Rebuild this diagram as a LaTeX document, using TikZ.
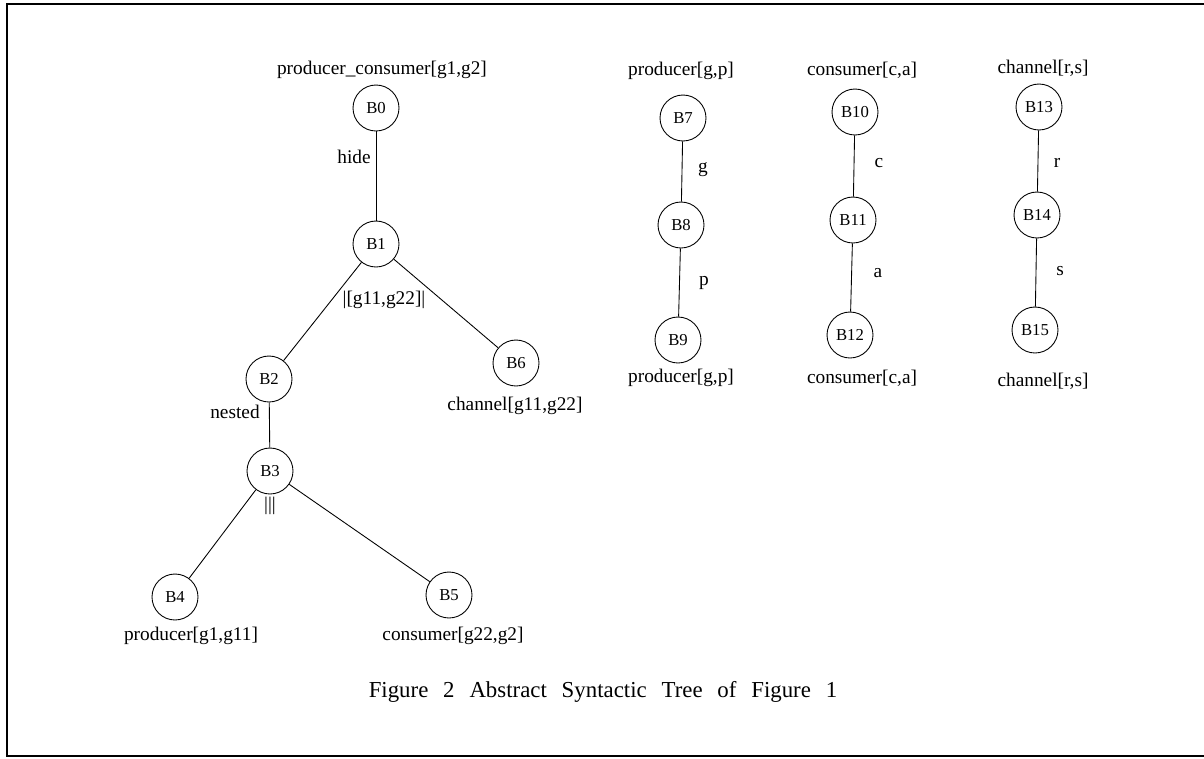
\documentclass[tikz,border=0pt]{standalone}
\usepackage{fontspec}
\setmainfont{Liberation Serif}

\begin{document}
\begin{tikzpicture}[x=0.02cm, y=-0.02cm,
  block/.style={circle, draw, line width=0.5pt, minimum size=0.92cm, inner sep=0pt, font=\fontsize{9.5}{11}\selectfont},
  tag/.style={inner sep=1pt, font=\fontsize{11}{13}\selectfont},
  link/.style={draw, line width=0.5pt},
]
\useasboundingbox (0,0) rectangle (1204,758);
\draw[line width=1.2pt] (1204,4) -- (7,4) -- (7,756) -- (1204,756);

% main tree
\node[block] (b0) at (376,108) {B0};
\node[block] (b1) at (376,244) {B1};
\node[block] (b2) at (269,379) {B2};
\node[block] (b3) at (270,471) {B3};
\node[block] (b4) at (175,597) {B4};
\node[block] (b5) at (449,595) {B5};
\node[block] (b6) at (516,363) {B6};

\node[tag] (t0) at (382,70) {producer\_consumer[g1,g2]};
\node[tag] (t4) at (191,636) {producer[g1,g11]};
\node[tag] (t5) at (453,636) {consumer[g22,g2]};
\node[tag] (t6) at (515,406) {channel[g11,g22]};

\node[tag] (hide) at (354,157) {hide};
\node[tag] (par) at (384,300) {|[g11,g22]|};
\node[tag] (nested) at (235,412) {nested};
\node[tag] (inter) at (270,506) {|||};

\path[link] (b0) -- (b1);
\path[link] (b1) -- (b2);
\path[link] (b1) -- (b6);
\path[link] (b2) -- (b3);
\path[link] (b3) -- (b4);
\path[link] (b3) -- (b5);

% producer
\node[block] (b7) at (683,118) {B7};
\node[block] (b8) at (681,225) {B8};
\node[block] (b9) at (678,340) {B9};
\node[tag] (t7) at (681,71) {producer[g,p]};
\node[tag] (t9) at (681,378) {producer[g,p]};
\node[tag] (g) at (703,170) {g};
\node[tag] (p) at (704,283) {p};
\path[link] (b7) -- (b8);
\path[link] (b8) -- (b9);

% consumer
\node[block] (b10) at (855,112) {B10};
\node[block] (b11) at (853,220) {B11};
\node[block] (b12) at (850,335) {B12};
\node[tag] (t10) at (862,70) {consumer[c,a]};
\node[tag] (t12) at (862,378) {consumer[c,a]};
\node[tag] (c) at (879,163) {c};
\node[tag] (a) at (878,273) {a};
\path[link] (b10) -- (b11);
\path[link] (b11) -- (b12);

% channel
\node[block] (b13) at (1039,107) {B13};
\node[block] (b14) at (1037,215) {B14};
\node[block] (b15) at (1035,330) {B15};
\node[tag] (t13) at (1043,68) {channel[r,s]};
\node[tag] (t15) at (1043,381) {channel[r,s]};
\node[tag] (r) at (1057,163) {r};
\node[tag] (s) at (1060,271) {s};
\path[link] (b13) -- (b14);
\path[link] (b14) -- (b15);

\node[font=\fontsize{13}{15}\selectfont] (caption) at (603,692)
  {\spaceskip=0.65em Figure 2 Abstract Syntactic Tree of Figure 1};
\end{tikzpicture}
\end{document}
